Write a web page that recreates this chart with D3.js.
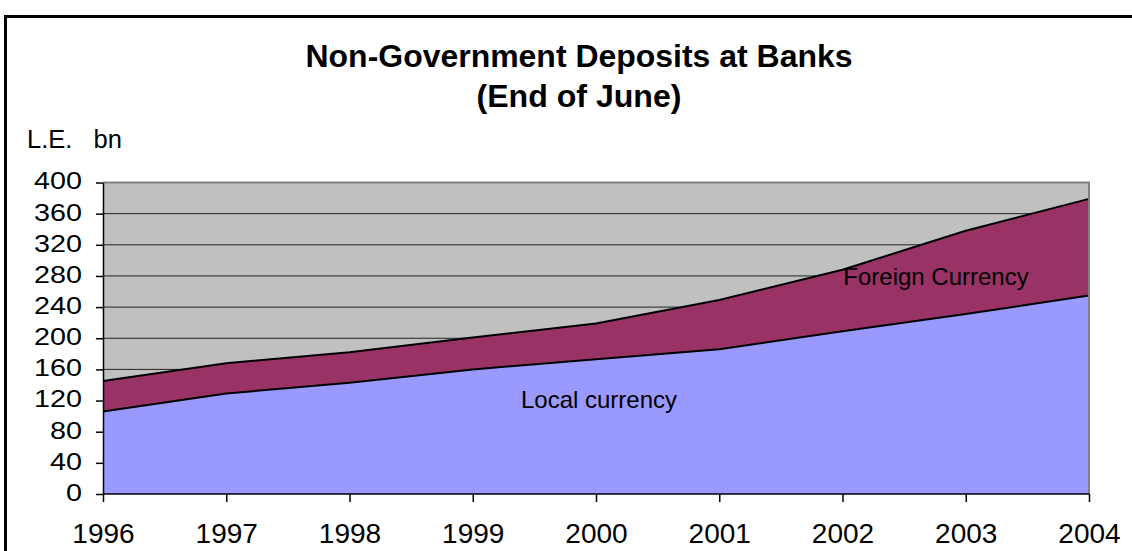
<!DOCTYPE html>
<html>
<head>
<meta charset="utf-8">
<script src="https://cdn.jsdelivr.net/npm/d3@7"></script>
<style>
  html, body { margin: 0; padding: 0; background: #fff; }
  svg { display: block; font-family: "Liberation Sans", Arial, sans-serif; }
</style>
</head>
<body>
<svg id="chart" width="1132" height="551"></svg>
<script>
// Non-government deposits at banks, end of June (L.E. bn)
const years = ["1996", "1997", "1998", "1999", "2000", "2001", "2002", "2003", "2004"];
const localCurrency = [106, 129, 143, 160, 173, 186, 209, 231, 255];
const foreignCurrency = [39, 39, 39, 41, 46, 63, 79, 107, 124];
const yTicks = [0, 40, 80, 120, 160, 200, 240, 280, 320, 360, 400];

const svg = d3.select("#chart");
const W = 1132, H = 551;
const plot = { left: 103, right: 1089, top: 182.5, bottom: 494 };
const FONT = "Liberation Sans, Arial, sans-serif";

// outer frame
svg.append("rect")
  .attr("x", 5.5).attr("y", 16.5)
  .attr("width", W + 20).attr("height", H + 20)
  .attr("fill", "#fff").attr("stroke", "#000").attr("stroke-width", 3);

// titles
svg.append("text").attr("x", 579).attr("y", 67)
  .attr("text-anchor", "middle").attr("font-size", 31).attr("font-weight", "bold")
  .attr("textLength", 547).attr("lengthAdjust", "spacingAndGlyphs")
  .text("Non-Government Deposits at Banks");
svg.append("text").attr("x", 579).attr("y", 107)
  .attr("text-anchor", "middle").attr("font-size", 31).attr("font-weight", "bold")
  .attr("textLength", 205).attr("lengthAdjust", "spacingAndGlyphs")
  .text("(End of June)");
svg.append("text").attr("x", 27).attr("y", 147.5)
  .attr("font-size", 25).attr("xml:space", "preserve")
  .attr("textLength", 95).attr("lengthAdjust", "spacingAndGlyphs")
  .text("L.E.   bn");

const x = d3.scalePoint().domain(years).range([plot.left, plot.right]);
const y = d3.scaleLinear().domain([0, 400]).range([plot.bottom, plot.top]);

// plot background
svg.append("rect")
  .attr("x", plot.left).attr("y", plot.top)
  .attr("width", plot.right - plot.left).attr("height", plot.bottom - plot.top)
  .attr("fill", "#C0C0C0");

// gridlines
svg.append("g").selectAll("line")
  .data(yTicks.filter(d => d > 0 && d < 400))
  .join("line")
  .attr("x1", plot.left).attr("x2", plot.right)
  .attr("y1", d => y(d)).attr("y2", d => y(d))
  .attr("stroke", "#222").attr("stroke-width", 1);

// stacked areas
const rows = years.map((yr, i) => ({ year: yr, local: localCurrency[i], foreign: foreignCurrency[i] }));
const stack = d3.stack().keys(["local", "foreign"]);
const series = stack(rows);
const colors = { local: "#9999FF", foreign: "#993366" };

const area = d3.area()
  .x(d => x(d.data.year))
  .y0(d => y(d[0]))
  .y1(d => y(d[1]));
const topLine = d3.line()
  .x(d => x(d.data.year))
  .y(d => y(d[1]));

svg.append("g").selectAll("path")
  .data(series)
  .join("path")
  .attr("d", area)
  .attr("fill", d => colors[d.key]);

svg.append("g").selectAll("path")
  .data(series)
  .join("path")
  .attr("d", topLine)
  .attr("fill", "none")
  .attr("stroke", "#000")
  .attr("stroke-width", 2)
  .attr("stroke-linejoin", "round");

// plot border (top and right)
svg.append("path")
  .attr("d", `M${plot.left},${plot.top}H${plot.right}V${plot.bottom}`)
  .attr("fill", "none").attr("stroke", "#808080").attr("stroke-width", 2);

// axes
const yStretch = 1.25;
const yAxis = svg.append("g")
  .attr("transform", `translate(${plot.left},0)`)
  .call(d3.axisLeft(y).tickValues(yTicks).tickSize(7).tickPadding(14).tickSizeOuter(0));
yAxis.selectAll("text")
  .attr("font-size", 23).attr("fill", "#000").attr("font-family", FONT)
  .attr("x", -21 / yStretch).attr("dy", "0.28em")
  .attr("transform", `scale(${yStretch},1)`);
yAxis.selectAll("line, path").attr("stroke", "#000").attr("stroke-width", 1.5);

const xAxis = svg.append("g")
  .attr("transform", `translate(0,${plot.bottom})`)
  .call(d3.axisBottom(x).tickSize(8).tickPadding(21).tickSizeOuter(0));
xAxis.select(".domain").attr("d", `M${plot.left},0H${plot.right}`);
xAxis.selectAll("text").attr("font-size", 28).attr("fill", "#000").attr("font-family", FONT);
xAxis.selectAll("line, path").attr("stroke", "#000").attr("stroke-width", 1.5);

// series labels
svg.append("text").attr("x", 599).attr("y", 408)
  .attr("text-anchor", "middle").attr("font-size", 24)
  .text("Local currency");
svg.append("text").attr("x", 936).attr("y", 285)
  .attr("text-anchor", "middle").attr("font-size", 24)
  .text("Foreign Currency");
</script>
</body>
</html>
